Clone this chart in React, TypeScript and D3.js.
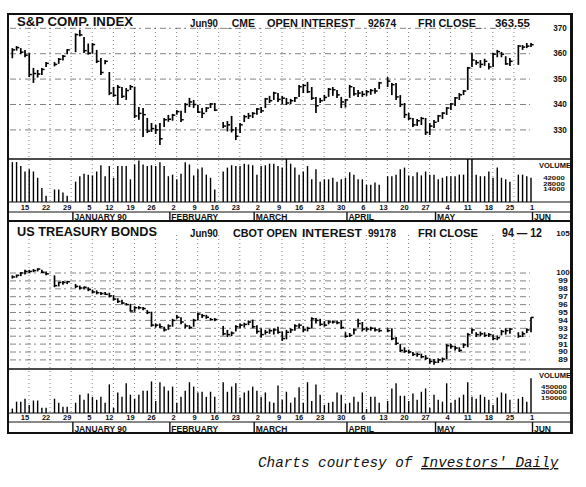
import React from "react";
import * as d3 from "d3";

// ---------- calendar ----------
const CAL_START = "1989-12-11"; // Monday, slot 0 of the weekday axis
const CAL_END = "1990-06-01";
const FIRST_BAR = "1989-12-12";
const HOLIDAYS = ["1989-12-25", "1990-01-01", "1990-02-19", "1990-04-13", "1990-05-28"];

const MONTHS = [
  { name: "", start: "1989-12-11" },
  { name: "JANUARY 90", start: "1990-01-01" },
  { name: "FEBRUARY", start: "1990-02-01" },
  { name: "MARCH", start: "1990-03-01" },
  { name: "APRIL", start: "1990-04-02" },
  { name: "MAY", start: "1990-05-01" },
  { name: "JUN", start: "1990-06-01" },
];

// ---------- S&P 500 June futures: [high, low, close] per trading day ----------
const spBars: [number, number, number][] = [
  // Dec 1989
  [362.2, 358.2, 361.5], [363.0, 361.2, 362.4], [362.2, 359.8, 360.6], [361.5, 358.6, 359.4],
  [360.2, 350.8, 351.8], [354.4, 348.5, 352.2], [353.6, 350.6, 352.0], [354.4, 351.6, 353.8],
  [356.7, 354.8, 356.2], [356.7, 355.0, 355.8], [358.3, 356.0, 357.8], [359.5, 357.3, 359.0],
  [361.8, 359.8, 361.5],
  // Jan 1990
  [368.0, 360.6, 367.5], [369.4, 366.8, 367.4], [366.6, 360.3, 361.2], [364.0, 359.6, 360.2],
  [364.2, 360.0, 363.6], [361.5, 356.3, 357.0], [358.3, 351.6, 352.6], [357.5, 355.8, 357.0],
  [352.8, 343.7, 344.5], [346.9, 343.0, 343.6], [347.7, 339.8, 346.8], [346.9, 342.6, 343.2],
  [346.5, 341.8, 345.5], [347.7, 345.7, 347.0], [347.0, 334.7, 335.5], [339.0, 334.0, 336.5],
  [338.6, 327.2, 336.0], [334.7, 328.8, 329.5], [332.7, 329.2, 330.5], [332.0, 328.4, 330.0],
  [332.7, 324.1, 326.5], [334.7, 331.1, 334.0],
  // Feb
  [335.9, 333.2, 334.2], [336.3, 333.6, 335.8], [337.8, 336.0, 337.2], [337.5, 333.1, 334.0],
  [340.6, 336.7, 340.0], [342.6, 339.0, 341.0], [341.8, 338.6, 340.0], [339.8, 336.7, 337.0],
  [338.6, 334.7, 336.5], [339.0, 337.0, 338.6], [340.6, 338.6, 340.2], [340.6, 337.4, 337.8],
  [333.1, 330.7, 331.5], [333.5, 329.4, 332.0], [335.5, 329.0, 330.0], [331.1, 326.0, 327.5],
  [332.7, 328.8, 332.0], [335.9, 333.1, 335.2], [336.7, 334.3, 335.5],
  // Mar
  [337.0, 334.7, 336.5], [338.6, 336.0, 338.2], [339.0, 336.7, 337.5], [342.6, 338.6, 342.2],
  [343.4, 340.6, 341.5], [345.0, 341.8, 344.5], [344.5, 341.0, 342.0], [343.4, 340.2, 342.5],
  [342.6, 339.8, 340.6], [342.2, 340.2, 341.5], [343.0, 341.0, 342.6], [347.7, 343.0, 347.0],
  [348.1, 344.5, 347.5], [348.9, 344.5, 345.0], [346.9, 341.8, 342.5], [343.0, 336.7, 339.5],
  [342.6, 340.6, 341.5], [343.8, 341.4, 342.8], [346.5, 343.0, 346.0], [346.9, 343.4, 345.8],
  [345.7, 342.6, 343.8], [343.0, 338.6, 341.0],
  // Apr
  [342.2, 338.8, 341.8], [347.7, 342.6, 347.0], [346.9, 343.4, 344.2], [345.7, 343.0, 344.5],
  [345.3, 343.0, 344.0], [345.7, 343.4, 345.0], [346.1, 343.8, 345.5], [346.5, 344.2, 345.3],
  [348.9, 346.1, 348.5], [350.8, 346.9, 349.2], [348.5, 343.7, 347.8], [348.5, 341.8, 343.0],
  [343.7, 339.0, 340.0], [340.6, 334.7, 336.0], [336.7, 333.9, 334.5], [334.7, 331.1, 332.0],
  [334.3, 331.5, 333.6], [335.1, 331.9, 334.5], [334.7, 328.0, 329.0], [332.7, 328.0, 331.5],
  // May
  [333.9, 330.7, 333.0], [335.9, 333.1, 335.5], [337.0, 334.3, 336.6], [339.0, 335.9, 338.6],
  [340.6, 337.8, 340.2], [343.0, 339.4, 342.6], [344.5, 341.8, 343.8], [345.7, 343.7, 345.3],
  [354.8, 345.7, 354.4], [360.3, 354.8, 357.5], [357.5, 355.6, 356.5], [357.5, 354.4, 355.8],
  [358.0, 355.2, 357.0], [356.3, 353.8, 354.8], [360.3, 354.8, 359.8], [361.5, 358.6, 360.8],
  [360.7, 358.6, 359.8], [359.0, 355.6, 356.0], [358.3, 355.2, 357.0], [363.4, 355.6, 363.0],
  [363.4, 361.5, 362.6], [364.2, 362.2, 363.0],
  // Jun
  [364.2, 362.6, 363.55],
];

// S&P daily volume, thousands of contracts
const spVolume = [
  51, 51, 46, 39, 42, 39, 31, 18, 8, 16, 16, 12, 8,
  26, 33, 36, 35, 34, 39, 47, 33, 46, 31, 46, 46, 46, 29, 48, 53, 48, 46, 47, 46, 51, 46,
  33, 35, 29, 36, 51, 48, 34, 42, 44, 35, 31, 16, 39, 44, 47, 46, 46, 49, 48,
  47, 35, 46, 47, 49, 49, 46, 44, 56, 49, 44, 35, 39, 46, 29, 42, 26, 29, 29, 31, 26, 29,
  31, 38, 35, 29, 29, 22, 22, 25, 22, 33, 33, 35, 42, 44, 34, 33, 38, 34, 39, 35,
  35, 29, 31, 33, 33, 33, 35, 35, 56, 55, 35, 33, 33, 39, 31, 44, 31, 29, 26, 35, 35, 33,
  31,
];

// ---------- US Treasury Bond June futures: [high, low, close] ----------
const bondBars: [number, number, number][] = [
  // Dec 1989
  [99.7, 99.3, 99.5], [99.8, 99.4, 99.7], [100.1, 99.6, 100.0], [100.4, 99.8, 100.2],
  [100.4, 100.0, 100.2], [100.5, 100.1, 100.3], [100.6, 100.2, 100.5], [100.4, 100.0, 100.1],
  [100.2, 99.7, 99.9], [99.7, 98.2, 98.4], [98.9, 98.3, 98.8], [99.0, 98.5, 98.8],
  [99.0, 98.6, 98.9],
  // Jan 1990
  [98.6, 98.1, 98.3], [98.4, 97.9, 98.1], [98.3, 97.9, 98.2], [98.2, 97.7, 97.9],
  [97.9, 97.4, 97.6], [97.8, 97.3, 97.5], [97.6, 97.2, 97.4], [97.6, 97.2, 97.3],
  [97.5, 96.9, 97.1], [97.2, 96.5, 96.7], [96.8, 96.2, 96.4], [96.6, 96.0, 96.2],
  [96.2, 95.9, 96.0], [96.1, 95.1, 95.2], [95.8, 95.1, 95.6], [95.8, 95.4, 95.6],
  [95.7, 95.3, 95.5], [95.3, 94.8, 95.0], [95.1, 93.2, 93.4], [93.6, 93.1, 93.4],
  [93.6, 93.0, 93.2], [93.2, 92.6, 92.8],
  // Feb
  [93.5, 92.8, 93.3], [94.2, 93.2, 94.0], [94.7, 94.2, 94.4], [94.4, 93.5, 93.8],
  [93.6, 93.0, 93.3], [93.4, 92.9, 93.1], [94.2, 93.2, 94.0], [95.0, 94.0, 94.8],
  [94.8, 94.3, 94.6], [94.7, 94.2, 94.4], [94.3, 94.0, 94.1], [94.3, 93.9, 94.1],
  [93.3, 92.1, 92.3], [92.8, 91.9, 92.2], [92.6, 92.0, 92.4], [93.4, 92.6, 93.2],
  [93.6, 93.0, 93.4], [93.7, 93.1, 93.5], [94.0, 93.4, 93.8],
  // Mar
  [94.1, 93.0, 93.2], [93.4, 92.3, 92.6], [93.0, 91.8, 92.2], [92.8, 92.2, 92.5],
  [92.9, 92.3, 92.7], [93.0, 92.2, 92.8], [93.2, 92.3, 92.5], [92.6, 91.4, 91.7],
  [92.8, 91.6, 92.5], [93.0, 92.4, 92.8], [93.5, 92.7, 93.3], [93.6, 93.0, 93.4],
  [93.3, 92.5, 92.8], [93.2, 92.6, 93.0], [94.4, 93.0, 94.2], [94.3, 93.6, 94.0],
  [94.2, 93.3, 93.5], [93.9, 93.2, 93.4], [94.0, 93.5, 93.8], [94.0, 93.6, 93.8],
  [94.0, 93.5, 93.7], [94.0, 92.9, 93.1],
  // Apr
  [92.5, 91.8, 92.0], [92.4, 91.9, 92.1], [93.0, 92.2, 92.8], [94.2, 93.1, 93.6],
  [93.8, 92.6, 92.9], [93.2, 92.6, 92.9], [93.2, 92.7, 93.0], [93.1, 92.6, 92.8],
  [93.0, 92.5, 92.7], [93.0, 92.5, 92.7], [93.0, 91.5, 91.7], [91.9, 90.9, 91.1],
  [91.0, 90.0, 90.2], [90.6, 89.9, 90.1], [90.3, 89.8, 90.0], [90.0, 89.5, 89.7],
  [89.9, 89.4, 89.7], [89.8, 89.2, 89.4], [89.6, 89.0, 89.2], [89.2, 88.5, 88.8],
  // May
  [89.1, 88.4, 88.7], [89.2, 88.6, 89.0], [89.3, 88.7, 89.1], [91.0, 89.1, 90.8],
  [91.0, 90.4, 90.7], [90.8, 90.2, 90.5], [90.6, 90.0, 90.2], [91.1, 90.5, 90.9],
  [92.4, 90.6, 92.2], [93.0, 92.3, 92.8], [92.5, 91.9, 92.2], [92.6, 92.0, 92.3],
  [92.5, 91.9, 92.1], [92.4, 91.9, 92.2], [92.2, 91.5, 91.7], [92.1, 91.5, 91.8],
  [92.8, 92.1, 92.6], [93.0, 92.2, 92.7], [93.0, 92.3, 92.9], [92.5, 91.8, 92.0],
  [92.6, 91.9, 92.3], [93.0, 92.4, 92.8],
  // Jun (94-12)
  [94.4, 92.5, 94.375],
];

// Bond daily volume, thousands of contracts
const bondVolume = [
  60, 155, 155, 195, 110, 170, 170, 70, 70, 195, 140, 85, 85,
  140, 250, 180, 265, 220, 180, 220, 140, 390, 70, 280, 220, 405, 250, 195, 250, 305, 305, 430, 165, 420, 360,
  305, 360, 140, 220, 305, 420, 360, 280, 290, 220, 290, 220, 420, 290, 360, 405, 210, 280, 305,
  360, 305, 220, 280, 155, 140, 375, 180, 290, 140, 210, 350, 140, 420, 165, 390, 250, 110, 140, 155, 280, 250,
  125, 140, 220, 155, 280, 55, 220, 220, 140, 165, 335, 405, 235, 235, 165, 265, 180, 290, 335, 70,
  250, 180, 155, 405, 140, 180, 210, 250, 420, 220, 195, 250, 220, 180, 110, 210, 280, 265, 180, 195, 220, 155,
  475,
];

const spTicks = [370, 360, 350, 340, 330];
const bondGrid = [100, 99, 98, 97, 96, 95, 94, 93, 92, 91, 90, 89];
const bondTicks = [105, ...bondGrid];

const spHeader = { title: "S&P COMP. INDEX", contract: "Jun90", exchange: "_CME", oi: "92674", close: "363.55" };
const bondHeader = { title: "US TREASURY BONDS", contract: "Jun90", exchange: "CBOT", oi: "99178", close: "94 \u2014 12" };
const spVolLabels = ["VOLUME", "42000", "28000", "14000"];
const bondVolLabels = ["VOLUME", "450000", "300000", "150000"];

// ---------- calendar helpers ----------
const DAY = 86400000;
const parse = (s: string) => {
  const [y, m, d] = s.split("-").map(Number);
  return Date.UTC(y, m - 1, d);
};

type Weekday = { t: number; iso: string; slot: number; dow: number; date: number };

function buildWeekdays(): Weekday[] {
  const out: Weekday[] = [];
  let slot = 0;
  for (let t = parse(CAL_START); t <= parse(CAL_END); t += DAY) {
    const d = new Date(t);
    const dow = d.getUTCDay();
    if (dow === 0 || dow === 6) continue;
    out.push({ t, iso: d.toISOString().slice(0, 10), slot, dow, date: d.getUTCDate() });
    slot++;
  }
  return out;
}

const weekdays = buildWeekdays();
const tradingDays = weekdays.filter((w) => w.t >= parse(FIRST_BAR) && !HOLIDAYS.includes(w.iso));
const fridays = weekdays.filter((w) => w.dow === 5 && w.t >= parse(FIRST_BAR));
const slotOf = (iso: string) => weekdays.find((w) => w.iso === iso)!.slot;

const LEFT = 8;
const RIGHT = 571;
const PLOT_R = 531;
const x = d3.scaleLinear().domain([0, weekdays.length - 1]).range([8.13, 531]);

const SANS = "'Liberation Sans', Arial, Helvetica, sans-serif";
const INK = "#111";

type PanelProps = {
  top: number;
  titleBase: number;
  volTop: number;
  volBase: number;
  dateBase: number;
  monthBase: number;
  header: typeof spHeader;
  titleWidth: number;
  bars: [number, number, number][];
  volume: number[];
  y: d3.ScaleLinear<number, number>;
  vol: d3.ScaleLinear<number, number>;
  grid: number[];
  ticks: number[];
  tickX: number;
  tickSize: number;
  volLabels: string[];
  volLabelY: number[];
  closeSize: number;
  closeWidth: number;
  closeX: number;
  splitHeader: boolean;
};

function Panel(p: PanelProps) {
  const gridTop = p.top + 14;
  return (
    <g>
      {/* horizontal price grid */}
      {p.grid.map((v) => (
        <line key={"h" + v} x1={10} x2={PLOT_R - 1} y1={p.y(v)} y2={p.y(v)}
          stroke="#222" strokeWidth={1} strokeDasharray="6 3 2 4" opacity={0.55} />
      ))}
      {/* weekly grid */}
      {fridays.filter((f) => x(f.slot) + 4 < PLOT_R).map((f) => (
        <line key={"v" + f.iso} x1={x(f.slot) + 4} x2={x(f.slot) + 4} y1={gridTop} y2={p.volBase}
          stroke="#333" strokeWidth={1} strokeDasharray="1 3" opacity={0.6} />
      ))}

      {/* title row */}
      <text x={17} y={p.titleBase} fontFamily={SANS} fontWeight="bold" fontSize={13} fill={INK}
        textLength={p.titleWidth} lengthAdjust="spacingAndGlyphs">{p.header.title}</text>
      <g fontFamily={SANS} fontWeight="bold" fontSize={10} fill={INK}>
        <text x={190} y={p.titleBase + 1} textLength={28} lengthAdjust="spacingAndGlyphs">{p.header.contract}</text>
        {p.splitHeader ? (
          <>
            <text x={233} y={p.titleBase + 1} textLength={64} lengthAdjust="spacingAndGlyphs">{p.header.exchange + " OPEN"}</text>
            <text x={302} y={p.titleBase + 1} textLength={60} lengthAdjust="spacingAndGlyphs">INTEREST</text>
          </>
        ) : (
          <>
            <text x={226} y={p.titleBase + 1} textLength={29} lengthAdjust="spacingAndGlyphs">{p.header.exchange}</text>
            <text x={267} y={p.titleBase + 1} textLength={88} lengthAdjust="spacingAndGlyphs">OPEN INTEREST</text>
          </>
        )}
        <text x={368} y={p.titleBase + 1} textLength={28} lengthAdjust="spacingAndGlyphs">{p.header.oi}</text>
        <text x={418} y={p.titleBase + 1} textLength={p.splitHeader ? 60 : 64} lengthAdjust="spacingAndGlyphs">
          {p.splitHeader ? "FRI CLOSE" : "FRI CLOSE_"}
        </text>
        <text x={p.closeX} y={p.titleBase + 1.5} fontSize={p.closeSize} textLength={p.closeWidth}
          lengthAdjust="spacingAndGlyphs">{p.header.close}</text>
      </g>

      {/* price axis labels */}
      <g fontFamily={SANS} fontWeight="bold" fontSize={p.tickSize} fill={INK} textAnchor="middle">
        {p.ticks.map((v) => (
          <text key={"t" + v} x={p.tickX} y={p.y(v) + 0.5} dominantBaseline="middle"
            textLength={v >= 100 ? 13.5 : 9.5} lengthAdjust="spacingAndGlyphs">{v}</text>
        ))}
      </g>

      {/* price bars */}
      <g stroke="#000">
        {p.bars.map((b, i) => {
          const cx = x(tradingDays[i].slot);
          const yh = p.y(b[0]);
          const yl = Math.max(p.y(b[1]), yh + 2);
          const yc = p.y(b[2]);
          return (
            <g key={"b" + i}>
              <line x1={cx} x2={cx} y1={yh} y2={yl} strokeWidth={1.7} />
              <line x1={cx} x2={cx + 2.7} y1={yc} y2={yc} strokeWidth={1.5} />
            </g>
          );
        })}
      </g>

      {/* separators */}
      <line x1={LEFT} x2={RIGHT} y1={p.volTop} y2={p.volTop} stroke={INK} strokeWidth={1.6} />
      <line x1={LEFT} x2={RIGHT} y1={p.volBase} y2={p.volBase} stroke={INK} strokeWidth={1.2} />
      <line x1={LEFT} x2={RIGHT} y1={p.dateBase} y2={p.dateBase} stroke={INK} strokeWidth={1.2} />

      {/* volume */}
      <g stroke="#000">
        {p.volume.map((v, i) => {
          const cx = x(tradingDays[i].slot);
          return <line key={"vol" + i} x1={cx} x2={cx} y1={p.volBase} y2={Math.max(p.vol(v), p.volTop)} strokeWidth={1.4} />;
        })}
      </g>
      <g fontFamily={SANS} fontWeight="bold" fill={INK} textAnchor="middle">
        {p.volLabels.map((s, i) => (
          <text key={s} x={i === 0 ? 555 : 554} y={p.volLabelY[i]} fontSize={i === 0 ? 7 : 5.8}
            textLength={i === 0 ? 32 : s.length * 4.3} lengthAdjust="spacingAndGlyphs">{s}</text>
        ))}
      </g>

      {/* week-ending dates */}
      <g fontFamily={SANS} fontWeight="bold" fontSize={7.5} fill={INK} textAnchor="middle">
        {fridays.map((f) => (
          <text key={"d" + f.iso} x={x(f.slot) + (f.date < 10 ? 1 : 0)} y={p.dateBase - 1.6}>{f.date}</text>
        ))}
      </g>

      {/* month boxes */}
      {MONTHS.slice(1).map((m) => {
        const mx = x(slotOf(m.start)) + 1.5;
        return <line key={"mb" + m.start} x1={mx} x2={mx} y1={p.dateBase} y2={p.monthBase} stroke={INK} strokeWidth={1.4} />;
      })}
      <g fontFamily={SANS} fontWeight="bold" fontSize={8.5} fill={INK}>
        {MONTHS.map((m) => (
          <text key={"m" + m.start} x={x(slotOf(m.start)) + 3} y={p.monthBase - 1.3}>{m.name}</text>
        ))}
      </g>
    </g>
  );
}

export default function App() {
  const spY = d3.scaleLinear().domain([330, 370]).range([129.9, 28.3]);
  const spVol = d3.scaleLinear().domain([0, 55]).range([202, 159]);
  const bondY = d3.scaleLinear().domain([89, 100]).range([359.9, 273]);
  const bondVol = d3.scaleLinear().domain([0, 600]).range([413, 369]);

  return (
    <svg width={586} height={487} viewBox="0 0 586 487"
      style={{ display: "block", position: "absolute", left: 0, top: 0, background: "#fff" }}>
      <rect x={0} y={0} width={586} height={487} fill="#fff" />
      <Panel top={14} titleBase={25.5} volTop={159} volBase={202} dateBase={212} monthBase={221}
        header={spHeader} titleWidth={116} bars={spBars} volume={spVolume} y={spY} vol={spVol}
        grid={spTicks} ticks={spTicks} tickX={560} tickSize={8.5}
        volLabels={spVolLabels} volLabelY={[168, 180, 185.5, 191]}
        closeSize={11.5} closeWidth={35} closeX={495} splitHeader={false} />
      <Panel top={221} titleBase={235.5} volTop={369} volBase={413} dateBase={422} monthBase={433}
        header={bondHeader} titleWidth={140} bars={bondBars} volume={bondVolume} y={bondY} vol={bondVol}
        grid={bondGrid} ticks={bondTicks} tickX={563} tickSize={7.2}
        volLabels={bondVolLabels} volLabelY={[378, 388.5, 394, 399.5]}
        closeSize={12} closeWidth={40} closeX={502} splitHeader={true} />

      {/* panel divider and outer frame */}
      <line x1={LEFT} x2={RIGHT} y1={221} y2={221} stroke={INK} strokeWidth={2.2} />
      <rect x={LEFT} y={14} width={RIGHT - LEFT} height={419} fill="none" stroke={INK} strokeWidth={2} />
      <line x1={RIGHT + 0.5} x2={RIGHT + 0.5} y1={13} y2={434} stroke={INK} strokeWidth={3} />

      <text x={258} y={467} fontFamily="'Liberation Mono', 'Courier New', monospace" fontStyle="italic"
        fontSize={14.3} fill={INK}>
        Charts courtesy of <tspan textDecoration="underline" style={{ textDecoration: "underline" }}>Investors' Daily</tspan>
      </text>
    </svg>
  );
}
